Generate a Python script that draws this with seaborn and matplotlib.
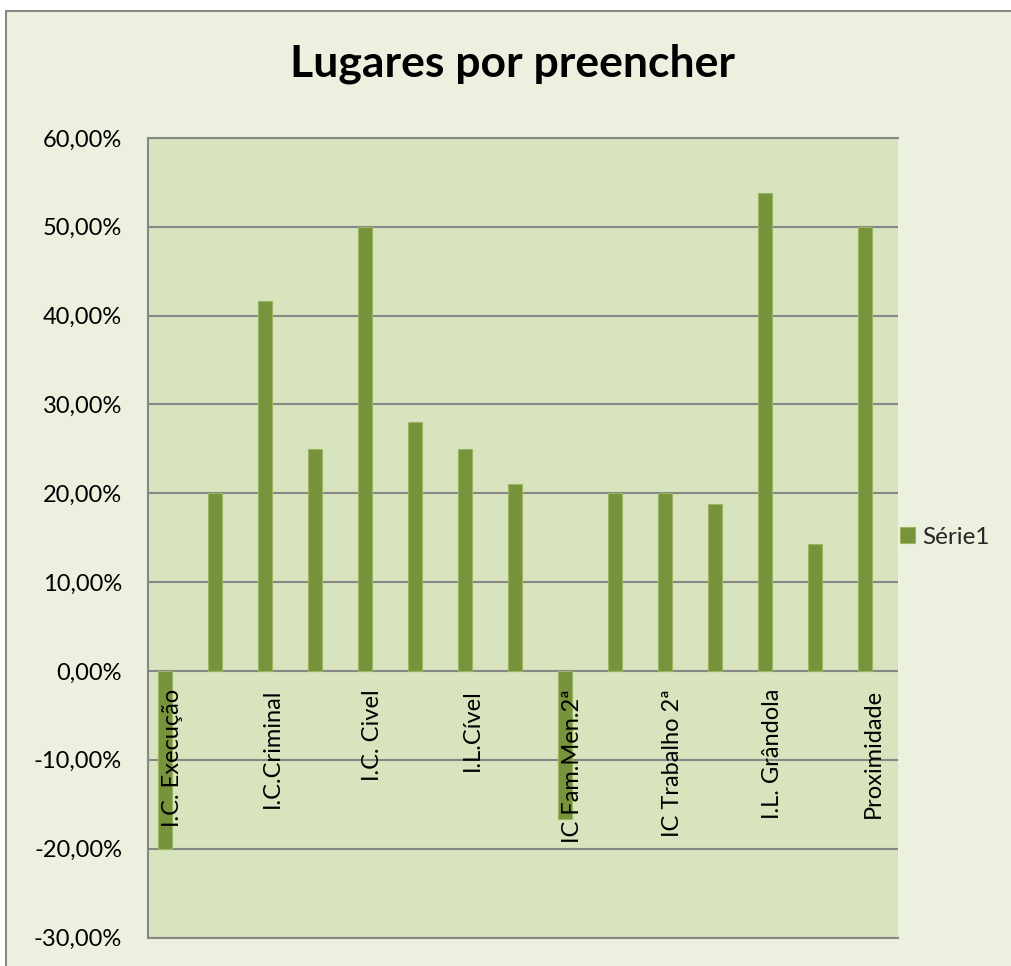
import matplotlib
matplotlib.use("Agg")
import matplotlib.pyplot as plt
import matplotlib.patches as mpatches
from matplotlib.lines import Line2D
from matplotlib.ticker import FuncFormatter, MultipleLocator
import seaborn as sns
import pandas as pd

# ---- data ----
labels = ["I.C. Execução", "", "I.C.Criminal", "", "I.C. Civel", "", "I.L.Cível", "",
          "IC Fam.Men.2ª", "", "IC Trabalho 2ª", "", "I.L. Grândola", "", "Proximidade"]
values = [-0.20, 0.20, 0.4167, 0.25, 0.50, 0.28, 0.25, 0.21,
          -0.1667, 0.20, 0.20, 0.1875, 0.5385, 0.1429, 0.50]
series_name = "Série1"
title = "Lugares por preencher"

df = pd.DataFrame({"pos": list(range(len(values))), "value": values})

sns.set_theme(style="white")
plt.rcParams["font.family"] = ["Lato", "DejaVu Sans"]

W, H = 1011, 966
fig = plt.figure(figsize=(W / 100, H / 100), dpi=100, facecolor="white")

# chart area background with border (left and top edges visible)
x0, y0 = 6 / W, 1 - 11 / H
bg = mpatches.Rectangle((x0, 0), 1 - x0, y0, transform=fig.transFigure,
                        facecolor="#EBF1DE", edgecolor="none", zorder=-5)
fig.patches.append(bg)
fig.lines.append(Line2D([x0, x0], [0, y0], transform=fig.transFigure, color="#878787",
                        linewidth=1.5, zorder=-4))
fig.lines.append(Line2D([x0, 1], [y0, y0], transform=fig.transFigure, color="#878787",
                        linewidth=1.5, zorder=-4))

ax = fig.add_axes([147.7 / W, 1 - 937.5 / H, (898 - 147.7) / W, (937.5 - 138) / H])
ax.set_zorder(1)
ax.set_facecolor("#D7E4BD")

sns.barplot(data=df, x="pos", y="value", color="#77933C", width=0.28, saturation=1,
            edgecolor="#9BB561", linewidth=0.8, label=series_name, ax=ax, zorder=3)

for p in ax.patches:
    p.set_x(p.get_x() - 0.155)

ax.set_xlim(-0.5, len(values) - 0.5)
ax.set_ylim(-0.3, 0.6)
ax.yaxis.set_major_locator(MultipleLocator(0.1))


def fmt(v, _):
    if abs(v) < 1e-9:
        v = 0.0
    return f"{v * 100:.2f}%".replace(".", ",")


ax.yaxis.set_major_formatter(FuncFormatter(fmt))
ax.set_xticks([])
ax.set_xlabel("")
ax.set_ylabel("")
ax.tick_params(axis="y", length=0, pad=18.5, labelsize=17, labelcolor="black")

ax.yaxis.grid(True, color="#878787", linewidth=1.5, zorder=1)
ax.set_axisbelow(True)
for s in ["top", "bottom", "left"]:
    ax.spines[s].set_visible(True)
    ax.spines[s].set_color("#878787")
    ax.spines[s].set_linewidth(1.5)
ax.spines["right"].set_visible(False)

for i, lab in enumerate(labels):
    if lab:
        ax.annotate(lab, xy=(i, 0), xycoords="data", xytext=(0, -13), textcoords="offset points",
                    rotation=90, ha="center", va="top", fontsize=17, color="black", zorder=5)

fig.text(512 / W, 1 - 77 / H, title, ha="center", va="baseline", fontsize=32,
         fontweight="bold", color="black")

leg = ax.legend(loc="center left", bbox_to_anchor=(900 / W, 1 - 537 / H),
                bbox_transform=fig.transFigure, frameon=False, fontsize=17.5,
                handlelength=0.62, handleheight=0.62, handletextpad=0.3, borderpad=0,
                borderaxespad=0)

fig.savefig("out.png", dpi=100, facecolor=fig.get_facecolor())
